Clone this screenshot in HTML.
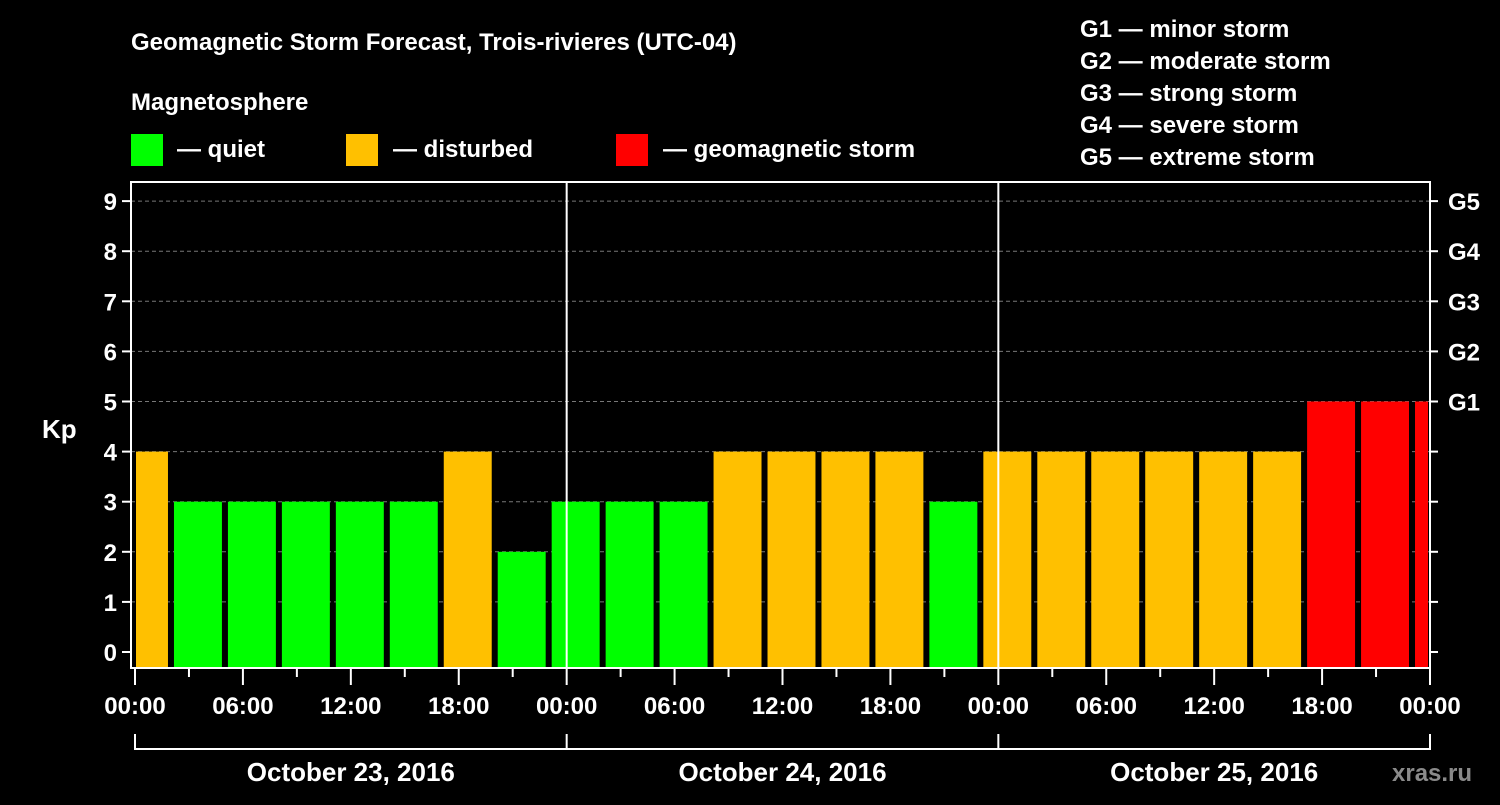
<!DOCTYPE html>
<html><head><meta charset="utf-8"><style>
body{margin:0;background:#000;width:1500px;height:800px;overflow:hidden}
svg text{font-family:"Liberation Sans",sans-serif;font-weight:bold;fill:#fff}
</style></head><body>
<svg id="c" width="1500" height="800">
<text x="131" y="50" font-size="24">Geomagnetic Storm Forecast, Trois-rivieres (UTC-04)</text>
<text x="131" y="110" font-size="24">Magnetosphere</text>
<g><rect x="131" y="134" width="32" height="32" fill="#00ff00"/><text x="177" y="157" font-size="24">— quiet</text></g>
<g><rect x="346" y="134" width="32" height="32" fill="#ffc000"/><text x="393" y="157" font-size="24">— disturbed</text></g>
<g><rect x="616" y="134" width="32" height="32" fill="#ff0000"/><text x="663" y="157" font-size="24">— geomagnetic storm</text></g>
<g font-size="24">
<text x="1080" y="37">G1 — minor storm</text><text x="1080" y="69">G2 — moderate storm</text><text x="1080" y="101">G3 — strong storm</text><text x="1080" y="133">G4 — severe storm</text><text x="1080" y="165">G5 — extreme storm</text></g>
<text x="42" y="438" font-size="26">Kp</text>
<text x="1392" y="781" font-size="24" fill="#888" style="fill:#8a8a8a">xras.ru</text>
<g id="grid"></g><g id="bars"></g><g id="axes"></g>
</svg>
<script>
const values=[4,3,3,3,3,3,4,2,3,3,3,4,4,4,4,3,4,4,4,4,4,4,5,5,5];
const yTicks=[0,1,2,3,4,5,6,7,8,9];
const gLabels=["G1","G2","G3","G4","G5"];
const xLabels=["00:00","06:00","12:00","18:00","00:00","06:00","12:00","18:00","00:00","06:00","12:00","18:00","00:00"];
const dates=["October 23, 2016","October 24, 2016","October 25, 2016"];
const NS="http://www.w3.org/2000/svg";
const L=131,R=1430,T=182,B=668,X0=135,PXH=(1430-135)/72;
const x=h=>X0+h*PXH, y=v=>652-v*50.1;
function mk(p,tag,a){const e=document.createElementNS(NS,tag);for(const k in a)e.setAttribute(k,a[k]);document.getElementById(p).appendChild(e);return e;}
yTicks.slice(1).forEach(v=>{const e=mk('grid','line',{x1:L,x2:R,y1:y(v),y2:y(v),stroke:'#777','stroke-dasharray':'4,3'});

});
values.forEach((v,i)=>{const h0=-1+3*i;let x1=Math.max(x(h0)+3,L+5),x2=Math.min(x(h0+3)-3,R-2);
const c=v>=5?'#ff0000':v>=4?'#ffc000':'#00ff00';
const e=mk('bars','rect',{x:x1,y:y(v),width:x2-x1,height:B-y(v),fill:c});

});
mk('axes','rect',{x:L,y:T,width:R-L,height:B-T,fill:'none',stroke:'#fff','stroke-width':2});
[24,48].forEach(h=>mk('axes','line',{x1:x(h),x2:x(h),y1:T,y2:B,stroke:'#fff','stroke-width':2}));
yTicks.forEach(v=>{mk('axes','line',{x1:L-9,x2:L,y1:y(v),y2:y(v),stroke:'#fff','stroke-width':2});
mk('axes','line',{x1:R,x2:R+8,y1:y(v),y2:y(v),stroke:'#fff','stroke-width':2});
const t=mk('axes','text',{x:L-14,y:y(v)+9,'text-anchor':'end','font-size':24});t.textContent=v;

});
gLabels.forEach((g,i)=>{const t=mk('axes','text',{x:1448,y:y(5+i)+9,'font-size':24});t.textContent=g;

});
for(let h=0;h<=72;h+=3){mk('axes','line',{x1:x(h),x2:x(h),y1:B,y2:B+(h%6?9:17),stroke:'#fff','stroke-width':2});}
xLabels.forEach((s,i)=>{const t=mk('axes','text',{x:x(i*6),y:714,'text-anchor':'middle','font-size':24});t.textContent=s;

});
mk('axes','line',{x1:x(0),x2:x(72),y1:749,y2:749,stroke:'#fff','stroke-width':2});
[0,24,48,72].forEach(h=>mk('axes','line',{x1:x(h),x2:x(h),y1:734,y2:750,stroke:'#fff','stroke-width':2}));
dates.forEach((d,i)=>{const t=mk('axes','text',{x:x(i*24+12),y:781,'text-anchor':'middle','font-size':26});t.textContent=d;

});
</script>
</body></html>
